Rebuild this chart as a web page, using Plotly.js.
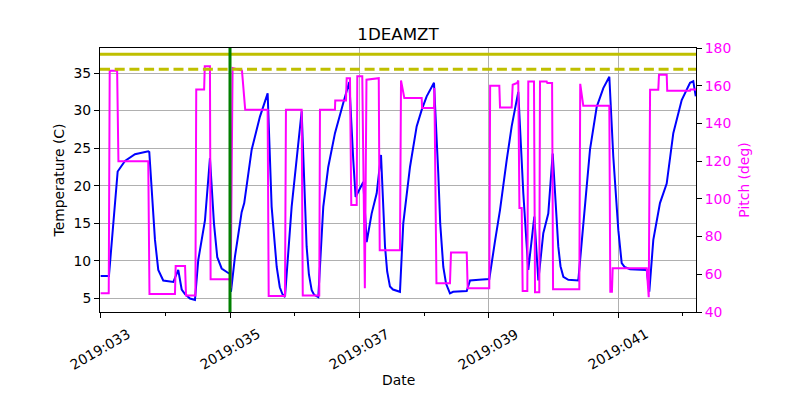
<!DOCTYPE html>
<html>
<head>
<meta charset="utf-8">
<script src="https://cdn.plot.ly/plotly-3.0.1.min.js"></script>
<style>html,body{margin:0;padding:0;background:#fff;}#chart{width:800px;height:400px;}</style>
</head>
<body>
<div id="chart"></div>
<script>
// Temperature (1DEAMZT), day-of-year 2019
const tempDays = [33.000,33.128,33.263,33.376,33.531,33.736,33.752,33.840,33.891,33.968,34.123,34.200,34.253,34.304,34.381,34.458,34.509,34.562,34.613,34.690,34.752,34.803,34.871,34.973,34.999,35.015,35.077,35.180,35.220,35.335,35.463,35.582,35.644,35.722,35.770,35.810,35.850,35.953,36.056,36.108,36.185,36.220,36.263,36.300,36.365,36.442,36.519,36.623,36.751,36.844,36.906,36.942,37.061,37.113,37.190,37.268,37.335,37.397,37.430,37.473,37.520,37.628,37.679,37.783,37.886,37.964,38.041,38.154,38.220,38.250,38.298,38.340,38.401,38.450,38.660,38.711,38.850,39.009,39.095,39.175,39.278,39.355,39.457,39.535,39.612,39.705,39.767,39.844,39.921,39.989,40.076,40.110,40.154,40.231,40.385,40.462,40.566,40.670,40.772,40.865,40.926,41.004,41.056,41.100,41.185,41.443,41.483,41.545,41.648,41.752,41.854,41.984,42.113,42.163,42.201];
const tempValues = [8.0,8.0,21.9,23.3,24.2,24.6,24.5,12.8,8.8,7.4,7.2,8.8,6.2,5.6,5.0,4.8,10.1,12.8,15.4,23.7,15.0,10.5,9.0,8.4,8.3,5.9,10.6,16.5,17.7,24.8,29.2,32.3,17.2,9.2,6.5,5.6,5.2,17.2,26.1,29.9,11.9,8.2,6.1,5.5,5.2,17.2,22.5,27.0,31.0,33.8,23.4,18.5,20.5,12.5,16.3,19.0,24.1,11.9,8.6,6.6,6.2,5.9,15.0,22.5,27.9,30.1,31.9,33.7,21.7,15.0,9.2,7.0,5.7,5.9,6.0,7.4,7.5,7.6,12.5,16.8,23.4,27.9,32.5,19.0,8.8,15.9,7.4,13.7,16.3,24.3,11.9,9.3,7.9,7.5,7.4,14.6,24.8,30.5,33.0,34.5,23.9,14.1,9.7,9.2,8.9,8.8,5.9,12.8,17.7,20.3,27.0,31.4,33.7,33.9,31.9];

// Pitch (deg)
const pitchDays = [33.000,33.125,33.140,33.255,33.275,33.736,33.755,34.149,34.160,34.305,34.320,34.465,34.478,34.600,34.610,34.690,34.700,34.995,35.010,35.040,35.185,35.235,35.582,35.598,35.850,35.865,36.108,36.125,36.380,36.391,36.623,36.627,36.793,36.804,36.855,36.875,36.959,36.968,37.045,37.085,37.110,37.300,37.315,37.628,37.644,37.695,37.964,37.970,38.154,38.160,38.192,38.401,38.417,38.660,38.675,39.009,39.022,39.164,39.175,39.355,39.371,39.440,39.457,39.475,39.510,39.525,39.597,39.612,39.700,39.716,39.782,39.793,39.896,39.906,39.980,39.995,40.401,40.415,40.462,40.865,40.880,40.905,40.917,41.443,41.474,41.495,41.622,41.633,41.752,41.760,42.113,42.120,42.205];
const pitchValues = [50,50,168,168,120,120,49.5,49.5,64.4,64.4,48.7,48.7,158,158,170.3,170.3,57.4,57.4,52.6,169.4,168,147.3,147.3,48.5,48.5,147.3,147.3,48.7,48.7,147.3,147.3,152.2,152.2,164,164,96.8,96.8,165,165,52.6,163.2,164,72.8,72.8,162.8,153.5,153.5,148.2,148.2,158.8,55.3,55.3,71.5,71.5,52.6,52.6,160,160,148.5,148.5,160.5,161.5,162.8,95.1,95.1,51.2,51.2,162.3,162.3,50.5,50.5,162.3,162.3,161.4,161.4,52,52,161,149.4,149.4,50.8,50.8,63.2,63.2,47.8,157.9,157.9,165.8,165.8,157.3,157.3,158,158];

// Limits and event marker
const limitSolid = 37.5;
const limitDashed = 35.5;
const eventDay = 35.0;

// Axis ticks
const xTickDays = [33,35,37,39,41];
const xTickLabels = ['2019:033','2019:035','2019:037','2019:039','2019:041'];
const tempTicks = [5,10,15,20,25,30,35];
const pitchTicks = [40,60,80,100,120,140,160,180];

const FONT = 'DejaVu Sans, sans-serif';

const traces = [
  {x: tempDays, y: tempValues, type: 'scatter', mode: 'lines', yaxis: 'y',
   line: {color: '#0000ff', width: 2}, hoverinfo: 'skip'},
  {x: pitchDays, y: pitchValues, type: 'scatter', mode: 'lines', yaxis: 'y2',
   line: {color: '#ff00ff', width: 2}, hoverinfo: 'skip'}
];

const tickAnnotations = xTickDays.map((d, i) => ({
  x: d, xref: 'x', y: 0, yref: 'paper', text: xTickLabels[i], showarrow: false,
  textangle: -30, xanchor: 'center', yanchor: 'top', yshift: -11,
  font: {family: FONT, size: 13.9, color: '#000'}
}));

const layout = {
  width: 800, height: 400,
  margin: {l: 100, r: 104, t: 48, b: 88},
  paper_bgcolor: '#ffffff', plot_bgcolor: '#ffffff',
  showlegend: false,
  font: {family: FONT, size: 14, color: '#000'},
  title: {text: '1DEAMZT', font: {family: FONT, size: 16.7, color: '#000'},
          x: 0.4975, xanchor: 'center', xref: 'container', y: 1 - 34/400, yref: 'container', yanchor: 'middle'},
  xaxis: {
    type: 'linear', range: [32.99, 42.205],
    tickmode: 'array', tickvals: xTickDays, showticklabels: false,
    ticks: 'outside', ticklen: 5, tickwidth: 1, tickcolor: '#000',
    minor: {tickmode: 'linear', tick0: 33, dtick: 1, ticks: 'outside', ticklen: 3, tickcolor: '#000', showgrid: false},
    showgrid: true, gridcolor: '#b0b0b0', gridwidth: 1,
    showline: true, linecolor: '#000', linewidth: 1, mirror: true, zeroline: false,
    automargin: false
  },
  yaxis: {
    range: [3.21, 38.33], tickmode: 'array', tickvals: tempTicks,
    ticks: 'outside', ticklen: 5, tickwidth: 1, tickcolor: '#000',
    showgrid: true, gridcolor: '#b0b0b0', gridwidth: 1,
    showline: true, linecolor: '#000', linewidth: 1, zeroline: false, mirror: false,
    tickfont: {family: FONT, size: 13.9, color: '#000'},
    title: {text: 'Temperature (C)', font: {family: FONT, size: 13.9, color: '#000'}, standoff: 5},
    automargin: false
  },
  yaxis2: {
    overlaying: 'y', side: 'right', range: [40, 180], tickmode: 'array', tickvals: pitchTicks,
    ticks: 'outside', ticklen: 5, tickwidth: 1, tickcolor: '#000',
    showgrid: false, showline: true, linecolor: '#000', linewidth: 1, zeroline: false,
    tickfont: {family: FONT, size: 13.9, color: '#ff00ff'},
    title: {text: 'Pitch (deg)', font: {family: FONT, size: 13.9, color: '#ff00ff'}, standoff: 8},
    automargin: false
  },
  annotations: tickAnnotations.concat([
    {x: 0.5, xref: 'paper', y: 0, yref: 'paper', yshift: -68, xanchor: 'center', yanchor: 'middle',
     text: 'Date', showarrow: false, font: {family: FONT, size: 13.9, color: '#000'}}
  ]),
  shapes: [
    {type: 'line', xref: 'paper', x0: 0, x1: 1, yref: 'y', y0: limitSolid, y1: limitSolid,
     line: {color: '#bfbf00', width: 3}},
    {type: 'line', xref: 'paper', x0: 0, x1: 1, yref: 'y', y0: limitDashed, y1: limitDashed,
     line: {color: '#bfbf00', width: 3, dash: '10px,4.7px'}},
    {type: 'line', xref: 'x', x0: eventDay, x1: eventDay, yref: 'paper', y0: 0, y1: 1,
     line: {color: '#008000', width: 3}}
  ]
};

Plotly.newPlot('chart', traces, layout, {staticPlot: true, displayModeBar: false});
</script>
</body>
</html>
